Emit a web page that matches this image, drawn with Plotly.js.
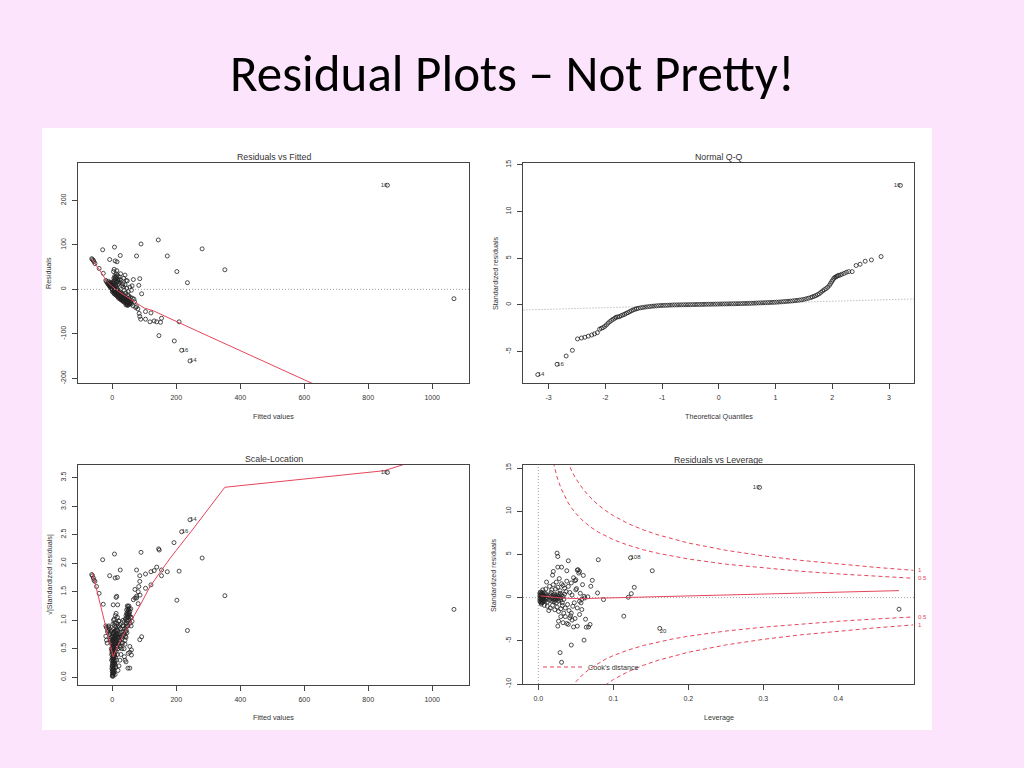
<!DOCTYPE html>
<html><head><meta charset="utf-8">
<script src="https://cdn.plot.ly/plotly-3.0.1.min.js"></script>
<style>html,body{margin:0;padding:0;background:#fce4fc;}#chart{width:1024px;height:768px;}</style>
</head><body><div id="chart"></div>
<script>
// ---------- Data ----------
const slideTitle = "Residual Plots – Not Pretty!";
const panelTitles = ["Residuals vs Fitted", "Normal Q-Q", "Scale-Location", "Residuals vs Leverage"];

// Residuals vs Fitted: [fitted, residual]
const rvfPoints = [
[860,234],[1068,-21],[144,111],[90,102],[281,91],[7,95],[-30,89],[172,75],[25,76],[76,75],[-8,67],[9,64],[15,62],[352,44],[202,40],[235,15],[86,24],[83,9],[92,-10],[40,32],[14,42],[66,22],[47,19],
[-64,69],[-62,67],[-59,65],[-57,62],[-54,58],[-41,47],[-28,36],[-20,20],[-18,17],[-15,14],
[76,-39],[84,-54],[86,-61],[89,-67],[104,-50],[104,-67],[121,-53],[118,-73],[131,-71],[139,-73],[154,-65],[151,-74],[209,-73],[146,-104],[194,-116],[217,-137],[243,-161],
[70,-28],[73,-41],[80,-44],[65,-37],[60,-33],[58,-30],[55,-27],[52,-24],[50,-28],[48,-31],[47,-34],[46,-22],[44,-26],[43,-20],[41,-17],[40,-23],[38,-15],[36,-18],[35,-12],[33,-20],[31,-14],[30,-10],[28,-16],[27,-8],[25,-12],[24,-5],[22,-9],[21,-3],[20,-14],[18,-6],[17,-1],[16,-10],[15,3],[14,-4],[13,6],[12,-2],[11,8],[10,1],[9,10],[8,4],[7,-3],[6,12],[5,6],[4,2],[3,14],[2,8],[1,4],[0,10],[-1,6],[-2,12],[-3,8],[-4,14],[-5,10],[-6,16],[-8,12],[-10,14],[-12,18],[-13,12],
[5,25],[8,30],[12,35],[18,22],[22,28],[10,20],[15,18],[25,15],[30,8],[35,5],[40,10],[45,3],[50,-5],[55,5],[60,-2],[62,8],[28,20],[33,12],[20,12],[38,-2],[42,-8],[48,-12],[52,-15],[57,-18],[63,-20],[68,-22],[44,20],[36,25],[26,35],[4,40],[6,45],
[20,-20],[25,-22],[30,-25],[35,-28],[40,-30],[45,-33],[50,-35],[10,-12],[15,-15],[55,-33],[5,-8],[0,-5],
[0,0],[2,-2],[4,-4],[6,-5],[8,-6],[10,-8],[12,-9],[14,-10],[16,-12],[18,-13],[20,-15],[22,-16],[24,-17],[26,-19],[28,-20],[30,-21],[32,-22],[34,-24],[36,-25],[38,-26],[42,-27],[46,-28],[50,-30],[54,-31],[-2,2],[-4,4],[-6,6],[-8,7],[-10,9],[3,0],[7,-1],[11,-4],[19,-9],[23,-11],[29,-14],[37,-20],[45,-24],[49,-26],[53,-20],[57,-26],
[1,1],[3,-3],[5,-1],[9,-5],[13,-7],[17,-9],[21,-12],[25,-14],[27,-17],[31,-18],[33,-24],[39,-22],[41,-28],[44,-30],[47,-25],[51,-27],[-1,3],[-3,6],[-5,5],[-7,9],[-9,11],[-11,12],[2,15],[4,18],[7,22],[9,27],[11,24],[14,28],[16,32],[13,15],[19,17],[24,22],[6,-10],[12,-13],[18,-17],[23,-19],[27,-23],[43,-35],[48,-36],[52,-33]
];
const rvfSmooth = [[-65,68],[-40,44],[-18,19],[0,6],[20,-5],[45,-17],[65,-26],[80,-34],[100,-42],[128,-48],[150,-55],[209,-75],[300,-105],[400,-138],[461,-158],[550,-186],[628,-212],[700,-236]];
const rvfLabelX = [860, 217, 243];
const rvfLabelY = [234, -137, -161];
const rvfLabelText = ["10", "16", "14"];
const rvfLabelPos = ["middle left", "middle right", "middle right"];

// Normal Q-Q: [theoretical quantile, standardized residual]
const qqPoints = [
[-3.19,-7.46],[-2.85,-6.36],[-2.69,-5.47],[-2.58,-4.86],[-2.49,-3.64],[-2.42,-3.54],[-2.36,-3.46],[-2.30,-3.34],[-2.24,-3.22],[-2.19,-3.1],[-2.14,-2.97],[-2.10,-2.6],[-2.07,-2.5],[-2.04,-2.43],[-2.01,-2.3],[-1.98,-2.14],[-1.95,-1.95],[-1.92,-1.79],[-1.89,-1.65],[-1.86,-1.53],[-1.83,-1.42],[-1.81,-1.32],[-1.78,-1.28],[-1.75,-1.25],[-1.72,-1.15],[-1.69,-1.07],[-1.66,-1.0],[-1.63,-0.9],[-1.60,-0.82],[-1.57,-0.72],[-1.54,-0.62],[-1.51,-0.54],[-1.48,-0.47],[-1.45,-0.41],[-1.42,-0.36],[-1.38,-0.31],[-1.34,-0.27],[-1.30,-0.23],[-1.26,-0.2],[-1.22,-0.17],[-1.18,-0.14],[-1.14,-0.12],[-1.10,-0.1],[-1.06,-0.08],[-1.02,-0.06],[-0.98,-0.05],[-0.94,-0.04],[-0.90,-0.03],[-0.86,-0.02],[-0.82,-0.01],[-0.78,0],[-0.74,0],[-0.70,0.01],[-0.66,0.01],[-0.62,0.02],[-0.58,0.02],[-0.54,0.03],[-0.50,0.03],[-0.46,0.04],[-0.42,0.04],[-0.38,0.05],[-0.34,0.05],[-0.30,0.06],[-0.26,0.06],[-0.22,0.07],[-0.18,0.07],[-0.14,0.08],[-0.10,0.08],[-0.06,0.09],[-0.02,0.09],[0.02,0.1],[0.06,0.1],[0.10,0.11],[0.14,0.11],[0.18,0.12],[0.22,0.12],[0.26,0.13],[0.30,0.13],[0.34,0.14],[0.38,0.14],[0.42,0.15],[0.46,0.16],[0.50,0.16],[0.54,0.17],[0.58,0.18],[0.62,0.19],[0.66,0.2],[0.70,0.21],[0.74,0.22],[0.78,0.23],[0.82,0.24],[0.86,0.25],[0.90,0.26],[0.94,0.27],[0.98,0.28],[1.02,0.3],[1.06,0.31],[1.10,0.33],[1.14,0.35],[1.18,0.37],[1.22,0.39],[1.26,0.41],[1.30,0.43],[1.34,0.46],[1.38,0.49],[1.42,0.52],[1.46,0.55],[1.50,0.6],[1.54,0.66],[1.58,0.72],[1.62,0.79],[1.65,0.86],[1.68,0.93],[1.71,1.0],[1.74,1.1],[1.77,1.2],[1.80,1.35],[1.83,1.5],[1.86,1.63],[1.89,1.75],[1.92,1.9],[1.95,2.1],[1.97,2.3],[1.99,2.5],[2.01,2.68],[2.03,2.86],[2.05,2.96],[2.07,3.03],[2.09,3.1],[2.11,3.16],[2.14,3.2],[2.17,3.29],[2.21,3.38],[2.25,3.5],[2.29,3.57],[2.35,3.57],[2.42,4.22],[2.49,4.36],[2.58,4.68],[2.69,4.82],[2.86,5.18],[3.2,12.8]
];
const qqLine = [[-3.6,-0.57],[3.6,0.67]];
const qqLabelX = [-3.19, -2.85, 3.2];
const qqLabelY = [-7.46, -6.36, 12.8];
const qqLabelText = ["14", "16", "10"];
const qqLabelPos = ["middle right", "middle right", "middle left"];

// Scale-Location: [fitted, sqrt(|standardized residual|)]
const slPoints = [
[860,3.59],[1068,1.19],[352,1.43],[281,2.09],[235,0.82],[202,1.35],[243,2.76],[217,2.55],[193,2.36],[209,1.86],[145,2.25],[147,2.23],[90,2.19],[7,2.16],[-30,2.06],[25,1.88],[76,1.88],[-8,1.78],[9,1.74],[16,1.75],[172,1.85],[154,1.88],[139,1.93],[131,1.87],[121,1.85],[104,1.81],[86,1.78],[154,1.78],[104,1.56],[121,1.62],[86,1.68],[83,1.59],[81,1.5],[76,1.42],[71,1.39],[66,1.36],
[-64,1.8],[-62,1.78],[-59,1.74],[-57,1.7],[-54,1.68],[-49,1.59],[-41,1.47],[-28,1.28],[-20,0.9],[-18,0.87],[-15,0.8],
[14,1.42],[92,0.71],[86,0.66],[49,0.16],[43,0.27],[60,0.39],[55,0.44],
[0,0.02],[1,0.05],[2,0.08],[0,0.1],[1,0.13],[3,0.15],[2,0.18],[0,0.2],[4,0.22],[1,0.25],[3,0.28],[5,0.3],[2,0.32],[0,0.35],[4,0.37],[6,0.4],[1,0.42],[3,0.45],[5,0.47],[7,0.5],[2,0.52],[0,0.55],[4,0.57],[8,0.6],[6,0.62],[1,0.65],[3,0.68],[9,0.7],[5,0.72],[10,0.75],[2,0.78],[7,0.8],[12,0.82],[4,0.85],[-2,0.6],[-3,0.5],[-1,0.45],[-4,0.7],[-5,0.8],[-6,0.65],[-2,0.3],[-1,0.15],[6,0.1],[8,0.25],[10,0.35],[12,0.45],[14,0.55],[15,0.65],[17,0.72],[13,0.3],[11,0.18],[9,0.05],[16,0.4],[18,0.5],[20,0.6],[22,0.7],[24,0.78],[26,0.85],[19,0.9],[21,0.98],[8,0.95],[6,1.02],[10,1.08],[12,1.12],[4,1.0],[14,0.95],[16,1.05],[-8,0.75],[-10,0.85],[-12,0.88],[28,0.7],[30,0.8],[32,0.9],[34,1.0],[36,0.75],[33,0.6],[30,0.5],[27,0.4],[24,0.3],[21,0.2],[18,0.12],[25,0.55],
[1,0.03],[3,0.06],[5,0.09],[2,0.11],[4,0.14],[6,0.17],[0,0.19],[2,0.23],[5,0.26],[7,0.29],[1,0.31],[3,0.34],[6,0.36],[8,0.39],[2,0.41],[4,0.44],[7,0.46],[9,0.49],[1,0.51],[3,0.54],[6,0.56],[9,0.58],[11,0.61],[2,0.63],[5,0.66],[8,0.68],[11,0.71],[13,0.74],[3,0.76],[6,0.79],[9,0.81],[14,0.84],[11,0.88],[7,0.91],[2,0.93],[-1,0.7],[-3,0.62],[-2,0.4],[0,0.47],[-1,0.58],[1,0.72],[-2,0.82],[5,0.52],[7,0.38],[9,0.22],[3,0.02],[4,0.07],[6,0.24],[10,0.6],[12,0.66],[13,0.52],[15,0.6],[16,0.7],[18,0.75],[19,0.68],[21,0.75],[23,0.65],[17,0.82],[22,0.88],[-7,0.68],[-9,0.78],[-11,0.9],[-13,0.82],
[40,0.65],[41,0.72],[42,0.8],[43,0.88],[44,0.95],[45,1.0],[46,1.05],[47,1.1],[48,1.15],[49,1.2],[50,1.24],[51,1.18],[52,1.25],[53,1.12],[50,1.05],[48,0.98],[46,0.9],[44,0.82],[52,1.0],[54,1.08],[56,0.95],[58,1.2],[60,1.05],[62,0.98],[47,1.25],[45,1.18],
[28,0.6],[31,0.68],[34,0.72],[37,0.8],[39,0.85],[35,0.9],[38,0.98],[41,1.02],[43,1.08],[45,1.12],[49,1.08],[51,1.12],[53,1.2],[55,1.15],[57,1.05],[59,0.9],[49,0.9],[46,0.78],[43,0.7],[40,0.58],[37,0.5],
[76,1.39],[87,1.44],[81,1.29],[71,1.54],[20,0.99],[25,0.92],[50,0.42],[60,0.48],[55,0.54],[55,0.16],[40,0.3],[38,0.36],[9,0.66],[14,0.77],[20,0.58],[25,0.52],[3,1.27],[17,1.27],[12,1.4],[-20,0.72],[-18,0.65],[-16,0.6]
];
const slSmooth = [[-62,1.84],[-28,1.07],[3,0.36],[20,0.58],[45,0.85],[87,1.26],[118,1.59],[180,2.08],[250,2.58],[352,3.33],[850,3.62],[1068,4.01]];
const slLabelX = [860, 217, 243];
const slLabelY = [3.59, 2.55, 2.76];
const slLabelText = ["10", "16", "14"];
const slLabelPos = ["middle left", "middle right", "middle right"];

// Residuals vs Leverage: [leverage, standardized residual]
const rvlPoints = [
[0.295,12.75],[0.481,-1.34],[0.123,4.61],[0.152,3.11],[0.162,-3.57],[0.114,-2.15],[0.128,1.19],[0.124,0.46],[0.120,0.04],[0.087,-0.23],[0.080,4.38],[0.079,0.54],[0.072,2.0],[0.070,1.31],[0.069,-3.11],[0.064,-3.42],[0.061,-4.92],[0.044,-5.49],[0.029,-6.37],[0.031,-7.49],[0.025,5.15],[0.026,4.76],[0.040,4.26],[0.020,3.03],[0.026,3.53],[0.031,3.53],[0.038,3.11],[0.052,3.19],[0.055,3.03],[0.054,2.84],[0.060,2.57],[0.050,2.07],[0.049,1.96],[0.051,1.04],[0.061,0.15],[0.062,-0.04],[0.055,-0.42],[0.057,-0.61],[0.058,-1.38],[0.055,-1.96],[0.052,-3.3],[0.049,-2.42],[0.038,-3.0],[0.027,-2.73],[0.026,-3.3],[0.042,-2.34],
[0.002,0.5],[0.002,0.2],[0.002,-0.1],[0.002,-0.4],[0.003,0.65],[0.003,0.35],[0.003,0.05],[0.003,-0.25],[0.003,-0.55],[0.004,0.45],[0.004,0.15],[0.004,-0.15],[0.004,-0.45],[0.004,-0.75],[0.005,0.6],[0.005,0.3],[0.005,0.0],[0.005,-0.3],[0.005,-0.6],[0.006,0.4],[0.006,0.1],[0.006,-0.2],[0.006,-0.5],[0.007,0.25],[0.007,-0.05],[0.007,-0.35],[0.008,0.55],[0.008,0.1],[0.008,-0.2],[0.009,0.3],[0.009,-0.4],[0.010,0.0],[0.010,0.45],[0.011,-0.2],[0.012,0.2],[0.012,-0.5],
[0.014,0.1],[0.015,-0.3],[0.016,0.35],[0.017,-0.1],[0.018,0.2],[0.018,-0.4],[0.019,0.0],[0.020,0.3],[0.020,-0.2],[0.021,0.1],[0.021,-0.5],[0.022,-0.1],[0.022,0.4],[0.023,0.2],[0.023,-0.3],[0.024,0.0],[0.024,-0.6],[0.025,0.3],[0.025,-0.15],[0.026,0.1],[0.027,-0.4],[0.028,0.2],[0.028,-0.1],[0.029,0.5],[0.030,-0.3],[0.030,0.0],[0.031,0.3],[0.032,-0.6],[0.033,0.15],[0.034,-0.2],[0.035,0.4],
[0.010,1.0],[0.012,-1.0],[0.015,1.3],[0.016,-1.2],[0.018,0.9],[0.019,-0.9],[0.020,1.5],[0.022,-1.4],[0.024,1.8],[0.025,-1.1],[0.026,1.2],[0.027,-1.6],[0.028,2.2],[0.029,0.8],[0.030,-1.3],[0.031,1.6],[0.032,-0.9],[0.033,1.4],[0.034,-1.8],[0.035,1.1],[0.036,-1.2],[0.037,0.7],[0.038,1.9],[0.039,-0.8],[0.040,1.3],[0.041,-1.5],[0.042,0.6],[0.043,-2.1],[0.044,1.7],[0.045,0.3],[0.046,-1.0],[0.047,2.3],[0.048,-0.6],[0.050,0.9],[0.052,-1.2],[0.053,3.23],[0.056,0.5],[0.058,-0.2],[0.059,1.5],[0.063,-2.5],[0.066,0.1],[0.067,-3.4],[0.047,-3.4],[0.045,-2.6],[0.033,-2.9],[0.036,-2.2],[0.040,-3.1],[0.044,-1.8],[0.030,-2.2],[0.008,-0.9],[0.006,0.9],[0.011,1.8],[0.014,-1.5],[0.019,2.6],[0.023,1.0],[0.017,0.6]
];
const rvlSmooth = [[0.003,0.2],[0.01,0.12],[0.02,0.03],[0.03,-0.04],[0.055,-0.12],[0.08,-0.06],[0.12,0.04],[0.2,0.21],[0.3,0.42],[0.4,0.63],[0.481,0.81]];
const rvlLabelX = [0.295, 0.123, 0.162];
const rvlLabelY = [12.75, 4.61, -3.57];
const rvlLabelText = ["10", "108", "20"];
const rvlLabelPos = ["middle left", "middle right", "bottom right"];

// Cook's distance contours (leverage, +/- standardized residual)
const cookLev   = [0.02,0.025,0.03,0.035,0.04,0.045,0.05,0.06,0.07,0.08,0.09,0.10,0.12,0.14,0.16,0.18,0.20,0.25,0.30,0.35,0.40,0.45,0.50];
const cookHalfUp = [15.65,13.96,12.71,11.74,10.95,10.30,9.75,8.85,8.15,7.58,7.11,6.71,6.06,5.54,5.12,4.77,4.47,3.87,3.42,3.05,2.74,2.47,2.24];
const cookHalfDn = [-15.65,-13.96,-12.71,-11.74,-10.95,-10.30,-9.75,-8.85,-8.15,-7.58,-7.11,-6.71,-6.06,-5.54,-5.12,-4.77,-4.47,-3.87,-3.42,-3.05,-2.74,-2.47,-2.24];
const cookOneUp  = [22.1,19.7,17.98,16.6,15.49,14.57,13.78,12.52,11.53,10.72,10.06,9.49,8.56,7.84,7.25,6.75,6.32,5.48,4.83,4.31,3.87,3.50,3.16];
const cookOneDn  = [-22.1,-19.7,-17.98,-16.6,-15.49,-14.57,-13.78,-12.52,-11.53,-10.72,-10.06,-9.49,-8.56,-7.84,-7.25,-6.75,-6.32,-5.48,-4.83,-4.31,-3.87,-3.50,-3.16];
const cookLevelText = ["1", "0.5", "0.5", "1"];

// Axis ticks
const fittedTicks = [0,200,400,600,800,1000];
const residTicks = [-200,-100,0,100,200];
const residTickText = ["-200","-100","0","100","200"];
const qqXTicks = [-3,-2,-1,0,1,2,3];
const qqXTickText = ["-3","-2","-1","0","1","2","3"];
const qqYTicks = [-5,0,5,10,15];
const qqYTickText = ["-5","0","5","10","15"];
const slYTicks = [0,0.5,1,1.5,2,2.5,3,3.5];
const slYTickText = ["0.0","0.5","1.0","1.5","2.0","2.5","3.0","3.5"];
const levTicks = [0,0.1,0.2,0.3,0.4];
const levTickText = ["0.0","0.1","0.2","0.3","0.4"];
const rvlYTicks = [-10,-5,0,5,10,15];
const rvlYTickText = ["-10","-5","0","5","10","15"];

// ---------- Rendering ----------
const W = 1024, H = 768;
const F = "Liberation Sans, Arial, sans-serif";
const INK = "#222";
const AX = "#444";
const RED = "#e6455a";
const GRAY = "#a0a0a0";
const xs = a => a.map(p => p[0]);
const ys = a => a.map(p => p[1]);
const dX = (l, r) => [l / W, r / W];
const dY = (t, b) => [(H - b) / H, (H - t) / H];

function axis(domain, range, vals, text, anchor, isY) {
  return {
    domain: domain, range: range, anchor: anchor,
    tickmode: "array", tickvals: vals, ticktext: text || vals.map(String),
    showline: true, mirror: true, linecolor: AX, linewidth: 1,
    ticks: "outside", ticklen: 5, tickwidth: 1, tickcolor: AX,
    tickfont: { family: F, size: 7, color: "#333" },
    tickangle: isY ? -90 : 0, ticklabelstandoff: 3,
    showgrid: false, zeroline: false, fixedrange: true
  };
}

function pts(arr, xa, ya) {
  return { type: "scatter", mode: "markers", x: xs(arr), y: ys(arr), xaxis: xa, yaxis: ya,
    marker: { symbol: "circle-open", size: 4, color: INK, line: { width: 0.8 } },
    showlegend: false, hoverinfo: "skip" };
}
function line(arr, xa, ya, color, dash, width) {
  return { type: "scatter", mode: "lines", x: xs(arr), y: ys(arr), xaxis: xa, yaxis: ya,
    line: { color: color, width: width || 1, dash: dash || "solid" }, showlegend: false, hoverinfo: "skip" };
}
function labels(lx, ly, lt, lp, xa, ya) {
  return { type: "scatter", mode: "text", x: lx, y: ly, text: lt, textposition: lp, xaxis: xa, yaxis: ya,
    textfont: { family: F, size: 6, color: "#333" }, showlegend: false, hoverinfo: "skip", cliponaxis: false };
}

const traces = [
  // Residuals vs Fitted
  pts(rvfPoints, "x", "y"),
  line(rvfSmooth, "x", "y", RED),
  labels(rvfLabelX, rvfLabelY, rvfLabelText, rvfLabelPos, "x", "y"),
  // Normal Q-Q
  line(qqLine, "x2", "y2", GRAY, "1px,2px"),
  pts(qqPoints, "x2", "y2"),
  labels(qqLabelX, qqLabelY, qqLabelText, qqLabelPos, "x2", "y2"),
  // Scale-Location
  pts(slPoints, "x3", "y3"),
  line(slSmooth, "x3", "y3", RED),
  labels(slLabelX, slLabelY, slLabelText, slLabelPos, "x3", "y3"),
  // Residuals vs Leverage
  pts(rvlPoints, "x4", "y4"),
  line(rvlSmooth, "x4", "y4", RED),
  labels(rvlLabelX, rvlLabelY, rvlLabelText, rvlLabelPos, "x4", "y4"),
  Object.assign(line(cookLev.map((h, i) => [h, cookHalfUp[i]]), "x4", "y4", RED, "4px,3px"), { name: "Cook's distance", showlegend: true, legendgroup: "cook" }),
  line(cookLev.map((h, i) => [h, cookOneUp[i]]), "x4", "y4", RED, "4px,3px"),
  line(cookLev.map((h, i) => [h, cookHalfDn[i]]), "x4", "y4", RED, "4px,3px"),
  line(cookLev.map((h, i) => [h, cookOneDn[i]]), "x4", "y4", RED, "4px,3px")
];

function ann(text, xpx, ypx, size, angle, color) {
  return { text: text, xref: "paper", yref: "paper", x: xpx / W, y: 1 - ypx / H,
    xanchor: "center", yanchor: "middle", showarrow: false, textangle: angle || 0,
    font: { family: F, size: size, color: color || "#333" } };
}

const last = a => a[a.length - 1];
const cookEnds = [last(cookOneUp), last(cookHalfUp), last(cookHalfDn), last(cookOneDn)];

const annotations = [
  { text: slideTitle, xref: "paper", yref: "paper", x: 512.5 / W, y: 1 - 73 / H, xanchor: "center", yanchor: "middle",
    showarrow: false, font: { family: "Carlito, Lato, sans-serif", size: 51, color: "#000" } },
  ann(panelTitles[0], 273.5, 157, 8.8),
  ann(panelTitles[1], 718.5, 157, 8.8),
  ann(panelTitles[2], 273.5, 459, 8.8),
  ann(panelTitles[3], 718.5, 459.5, 8.8),
  ann("Fitted values", 273.5, 416, 7.2),
  ann("Theoretical Quantiles", 718.5, 416, 7.2),
  ann("Fitted values", 273.5, 717, 7.2),
  ann("Leverage", 718.5, 717, 7.2),
  ann("Residuals", 48, 273, 7.2, -90),
  ann("Standardized residuals", 495, 273, 7.2, -90),
  ann("√|Standardized residuals|", 49, 575, 7.2, -90),
  ann("Standardized residuals", 493, 575, 7.2, -90)
].concat(cookEnds.map((v, i) => ({
  text: cookLevelText[i], xref: "x4", yref: "y4", x: 0.5, y: v, xanchor: "left", yanchor: "middle",
  xshift: 3, showarrow: false, font: { family: F, size: 6, color: RED }
})));

const layout = {
  width: W, height: H, margin: { l: 0, r: 0, t: 0, b: 0 },
  paper_bgcolor: "#fce4fc", plot_bgcolor: "#ffffff",
  xaxis:  axis(dX(78, 469),  [-107, 1115], fittedTicks, null, "y", false),
  yaxis:  axis(dY(163, 383), [-210.5, 284], residTicks, residTickText, "x", true),
  xaxis2: axis(dX(523, 914), [-3.45, 3.44], qqXTicks, qqXTickText, "y2", false),
  yaxis2: axis(dY(163, 383), [-8.36, 15.2], qqYTicks, qqYTickText, "x2", true),
  xaxis3: axis(dX(78, 469),  [-107, 1115], fittedTicks, null, "y3", false),
  yaxis3: axis(dY(465, 685), [-0.135, 3.72], slYTicks, slYTickText, "x3", true),
  xaxis4: axis(dX(523, 914), [-0.0204, 0.501], levTicks, levTickText, "y4", false),
  yaxis4: axis(dY(465, 684), [-10, 15.35], rvlYTicks, rvlYTickText, "x4", true),
  showlegend: true,
  legend: { x: 538 / W, y: 1 - 667 / H, xanchor: "left", yanchor: "middle", bgcolor: "rgba(0,0,0,0)",
    borderwidth: 0, font: { family: F, size: 7.2, color: "#333" }, itemwidth: 40, tracegroupgap: 0 },
  annotations: annotations,
  shapes: [
    { type: "rect", xref: "paper", yref: "paper", x0: 42 / W, x1: 932 / W, y0: 1 - 730 / H, y1: 1 - 128 / H,
      fillcolor: "#ffffff", line: { width: 0 }, layer: "below" },
    { type: "line", xref: "x domain", yref: "y", x0: 0, x1: 1, y0: 0, y1: 0, line: { color: GRAY, width: 1, dash: "1px,2px" } },
    { type: "line", xref: "x4 domain", yref: "y4", x0: 0, x1: 1, y0: 0, y1: 0, line: { color: GRAY, width: 1, dash: "1px,2px" }, layer: "below" },
    { type: "line", xref: "x4", yref: "y4 domain", x0: 0, x1: 0, y0: 0, y1: 1, line: { color: GRAY, width: 1, dash: "1px,2px" }, layer: "below" }
  ]
};

Plotly.newPlot("chart", traces, layout, { staticPlot: true, displayModeBar: false });
</script></body></html>
